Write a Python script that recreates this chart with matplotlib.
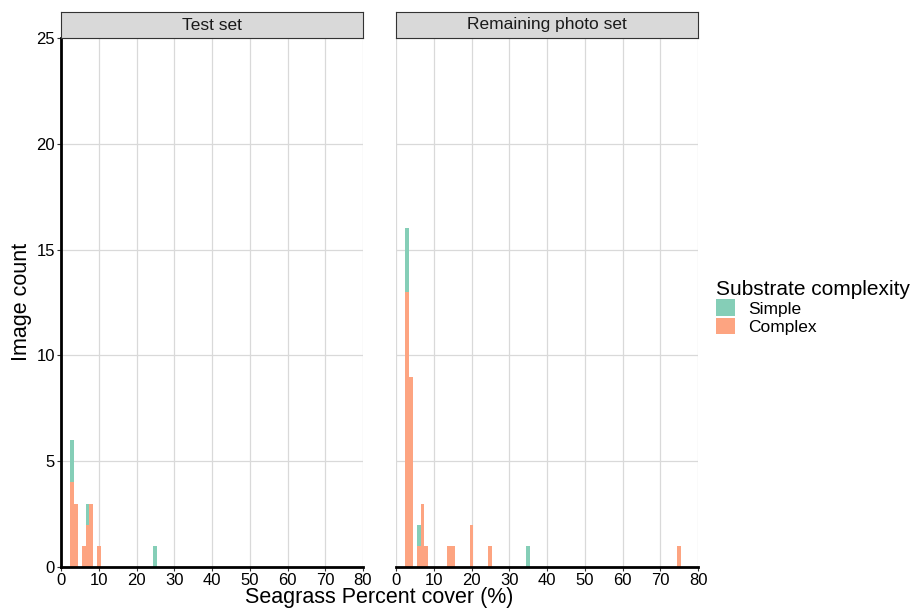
import numpy as np
import matplotlib.pyplot as plt
from matplotlib.patches import Patch

plt.rcParams['font.family'] = ['Liberation Sans', 'DejaVu Sans']

# Data (bin centre -> count), binwidth 1
panels = ['Test set', 'Remaining photo set']

test_cover = [3, 4, 6, 7, 8, 10, 25]
test_complex = [4, 3, 1, 2, 3, 1, 0]
test_simple = [2, 0, 0, 1, 0, 0, 1]

rest_cover = [3, 4, 6, 7, 8, 14, 15, 20, 25, 35, 75]
rest_complex = [13, 9, 1, 3, 1, 1, 1, 2, 1, 0, 1]
rest_simple = [3, 0, 1, 0, 0, 0, 0, 0, 0, 1, 0]

series = [(test_cover, test_complex, test_simple),
          (rest_cover, rest_complex, rest_simple)]

col_simple = '#85CEB7'
col_complex = '#FDA481'

fig = plt.figure(figsize=(9.21, 6.12), dpi=100)
W, H = 921, 612
lefts = [61, 396]
pw = 302
top, bottom = 38, 567

for i, (x, cpx, smp) in enumerate(series):
    ax = fig.add_axes([lefts[i] / W, 1 - bottom / H, pw / W, (bottom - top) / H])
    x = np.array(x)
    cpx = np.array(cpx)
    smp = np.array(smp)
    ax.bar(x, cpx, width=1, color=col_complex, linewidth=0, zorder=3)
    ax.bar(x, smp, width=1, bottom=cpx, color=col_simple, linewidth=0, zorder=3)
    ax.set_xlim(0, 80)
    ax.set_ylim(0, 25)
    ax.set_xticks(np.arange(0, 81, 10))
    ax.set_yticks(np.arange(0, 26, 5))
    ax.grid(True, color='#D9D9D9', lw=0.9, zorder=0)
    for s in ['top', 'right']:
        ax.spines[s].set_visible(False)
    ax.spines['bottom'].set_color('black')
    ax.spines['bottom'].set_linewidth(2)
    ax.spines['bottom'].set_zorder(5)
    ax.tick_params(axis='both', labelsize=12, length=3, width=0.8,
                   color='#333333', labelcolor='black', pad=1.5)
    if i == 0:
        ax.spines['left'].set_color('black')
        ax.spines['left'].set_linewidth(2)
        ax.spines['left'].set_zorder(5)
    else:
        ax.spines['left'].set_visible(False)
        ax.tick_params(axis='y', left=False, labelleft=False)

    # facet strip
    strip = fig.add_axes([lefts[i] / W, 1 - top / H, pw / W, 26 / H])
    strip.set_xticks([])
    strip.set_yticks([])
    strip.set_facecolor('#D9D9D9')
    for s in strip.spines.values():
        s.set_color('#333333')
        s.set_linewidth(0.8)
    strip.text(0.5, 0.5, panels[i], ha='center', va='center', fontsize=12.5,
               color='#1A1A1A', transform=strip.transAxes)

fig.text(21 / W, 1 - 302 / H, 'Image count', rotation=90, ha='center',
         va='center', fontsize=15.5)
fig.text(379 / W, 1 - 598 / H, 'Seagrass Percent cover (%)', ha='center',
         va='center', fontsize=15.5)

handles = [Patch(facecolor=col_simple, label='Simple'),
           Patch(facecolor=col_complex, label='Complex')]
fig.legend(handles=handles, title='Substrate complexity', loc='upper left',
           bbox_to_anchor=(700 / W, 1 - 264 / H), frameon=False,
           fontsize=12.5, title_fontsize=15, handlelength=1.1, handleheight=1.1,
           handletextpad=0.8, labelspacing=0.05, alignment='left')

fig.savefig('out.png', dpi=100)
